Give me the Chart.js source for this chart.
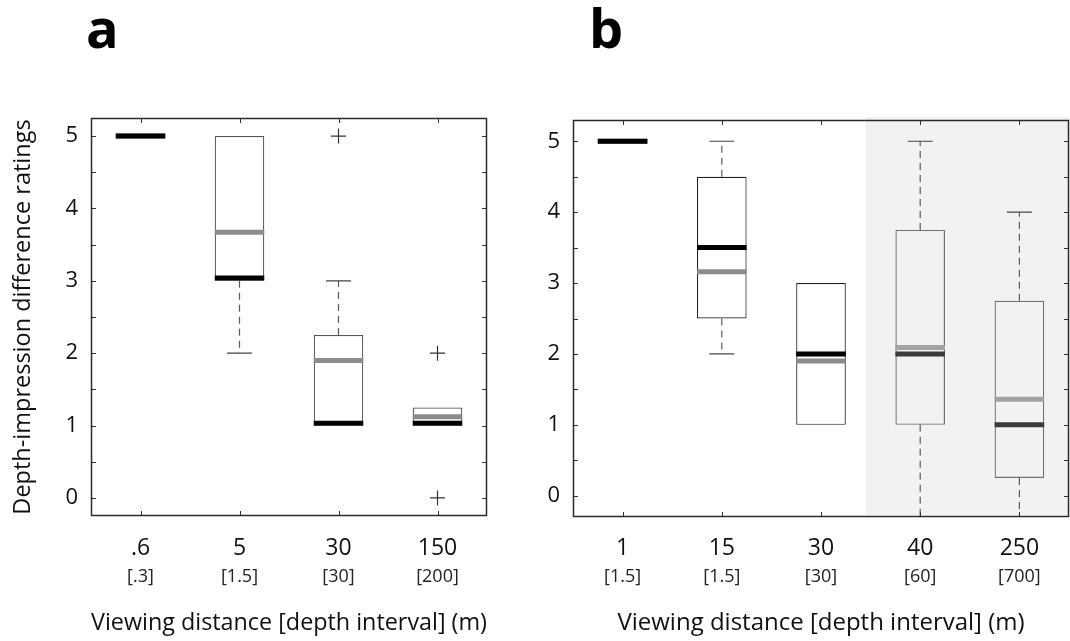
<!DOCTYPE html>
<html>
<head>
<meta charset="utf-8">
<script src="https://cdn.jsdelivr.net/npm/chart.js@4.4.1/dist/chart.umd.min.js"></script>
<style>
  html, body { margin: 0; padding: 0; background: #fff; }
  body { width: 1070px; height: 641px; position: relative; overflow: hidden; font-family: "Open Sans", sans-serif; }
  .panel { position: absolute; top: 0; }
  .letter { position: absolute; top: 0; font-size: 54px; line-height: 54px; font-weight: 700; color: #000; }
</style>
</head>
<body>
<div class="letter" style="left:86px;">a</div>
<div class="letter" style="left:589px;">b</div>
<canvas id="cA" class="panel" style="left:0px;" width="535" height="641"></canvas>
<canvas id="cB" class="panel" style="left:535px;" width="535" height="641"></canvas>
<script>
// ---------- Panel a data ----------
const catsA   = ['.6', '5', '30', '150'];
const depthA  = ['[.3]', '[1.5]', '[30]', '[200]'];
const q1A     = [5, 3, 1, 1];
const q3A     = [5, 5, 2.25, 1.25];
const medA    = [5, 3.04, 1.03, 1.03];
const meanA   = [5, 3.67, 1.9, 1.12];
const loA     = [5, 2, 1, 1];
const hiA     = [5, 5, 3, 1.25];
const outCatA = ['30', '150', '150'];
const outValA = [5, 2, 0];

// ---------- Panel b data ----------
const catsB   = ['1', '15', '30', '40', '250'];
const depthB  = ['[1.5]', '[1.5]', '[30]', '[60]', '[700]'];
const q1B     = [5, 2.5, 1, 1, 0.25];
const q3B     = [5, 4.5, 3, 3.75, 2.75];
const medB    = [5, 3.5, 2, 2, 1];
const meanB   = [5, 3.16, 1.9, 2.09, 1.36];
const loB     = [5, 2, 1, -0.3, -0.3];
const hiB     = [5, 5, 3, 5, 4];
const outCatB = [];
const outValB = [];

// ---------- y ticks ----------
const yTickValues = [0, 0.5, 1, 1.5, 2, 2.5, 3, 3.5, 4, 4.5, 5];
const yTickLabels = ['0', '', '1', '', '2', '', '3', '', '4', '', '5'];

const FONT = '"Open Sans", sans-serif';

const framePlugin = {
  id: 'frameTicks',
  beforeDatasetsDraw(chart, args, opts) {
    if (opts.shadeFrom == null) return;
    const {ctx, chartArea: a, scales: {x}} = chart;
    const x0 = x.getPixelForValue(opts.shadeFrom);
    ctx.save();
    ctx.fillStyle = '#f2f2f2';
    ctx.fillRect(x0, a.top - 3, a.right - x0, a.bottom - a.top + 1);
    ctx.restore();
  },
  afterDatasetsDraw(chart, args, opts) {
    const {ctx, chartArea: a, scales: {x, y}} = chart;
    ctx.save();
    ctx.strokeStyle = '#333';
    ctx.lineWidth = 1;
    ctx.beginPath();
    y.ticks.forEach((t, i) => {
      const py = Math.round(y.getPixelForTick(i)) + 0.5;
      ctx.moveTo(a.left, py); ctx.lineTo(a.left + 5, py);
      ctx.moveTo(a.right - 5, py); ctx.lineTo(a.right, py);
    });
    x.ticks.forEach((t, i) => {
      const px = Math.round(x.getPixelForTick(i)) + 0.5;
      ctx.moveTo(px, a.top); ctx.lineTo(px, a.top + 5);
      ctx.moveTo(px, a.bottom - 5); ctx.lineTo(px, a.bottom);
    });
    ctx.stroke();
    ctx.lineWidth = 1.5;
    ctx.strokeStyle = '#2a2a2a';
    ctx.strokeRect(Math.round(a.left) + 0.5, Math.round(a.top) + 0.5,
                   Math.round(a.width) - 1, Math.round(a.height) - 1);
    ctx.restore();
  }
};

function noPad(s) { s.paddingLeft = 0; s.paddingRight = 0; s.paddingTop = 0; s.paddingBottom = 0; }

function buildChart(canvasId, cfg) {
  const {cats, depth, q1, q3, med, mean, lo, hi, outCat, outVal,
         yMin, yMax, yAxisWidth, padTop, padRight, xH, x2H, xPad, showTitle, shadeFrom} = cfg;
  const shaded = i => shadeFrom != null && i > shadeFrom;
  const whisk = [], caps = [];
  cats.forEach((c, i) => {
    if (hi[i] > q3[i]) { whisk.push({x: c, y: q3[i]}, {x: c, y: hi[i]}, {x: c, y: null}); caps.push({x: c, y: hi[i]}); }
    if (lo[i] < q1[i]) { whisk.push({x: c, y: q1[i]}, {x: c, y: lo[i]}, {x: c, y: null}); caps.push({x: c, y: lo[i]}); }
  });
  const outliers = outCat.map((c, i) => ({x: c, y: outVal[i]}));
  const halfBox = ctx => {
    const s = ctx.chart.scales.x;
    return Math.abs(s.getPixelForValue(1) - s.getPixelForValue(0)) * 0.25;
  };
  return new Chart(document.getElementById(canvasId), {
    type: 'bar',
    data: {
      labels: cats,
      datasets: [
        { type: 'bar', order: 5, data: cats.map((c, i) => [q1[i], q3[i]]),
          backgroundColor: cats.map((c, i) => shaded(i) ? 'rgba(255,255,255,0)' : '#ffffff'),
          borderColor: cats.map((c, i) => shaded(i) ? '#707070' : (showTitle ? '#555555' : '#222222')),
          borderWidth: 1.2, borderSkipped: false, categoryPercentage: 1, barPercentage: 0.5 },
        { type: 'line', order: 4, data: whisk, borderColor: '#5a5a5a', borderWidth: 1.2, borderDash: [7, 5],
          pointRadius: 0, spanGaps: false, fill: false },
        { type: 'line', order: 3, data: caps, showLine: false, pointStyle: 'line', pointRadius: 12.5,
          pointBorderWidth: 1.2, pointBorderColor: '#444', pointBackgroundColor: '#444' },
        { type: 'line', order: 2, showLine: false, data: cats.map((c, i) => ({x: c, y: mean[i]})),
          pointStyle: 'line', pointRadius: halfBox, pointBorderWidth: 5,
          pointBorderColor: cats.map((c, i) => shaded(i) ? '#a3a3a3' : '#8c8c8c') },
        { type: 'line', order: 1, showLine: false, data: cats.map((c, i) => ({x: c, y: med[i]})),
          pointStyle: 'line', pointRadius: halfBox, pointBorderWidth: 5,
          pointBorderColor: cats.map((c, i) => shaded(i) ? '#3a3a3a' : '#000000') },
        { type: 'line', order: 0, showLine: false, data: outliers, pointStyle: 'cross', pointRadius: 7.5,
          pointBorderWidth: 1.2, pointBorderColor: '#333' }
      ]
    },
    options: {
      responsive: false, animation: false, devicePixelRatio: 1,
      layout: {autoPadding: false, padding: {top: padTop, right: padRight, left: 0, bottom: 0}},
      plugins: { legend: {display: false}, tooltip: {enabled: false}, frameTicks: {shadeFrom: shadeFrom} },
      scales: {
        x: { type: 'category', position: 'bottom', offset: true,
          grid: {display: false, drawTicks: false}, border: {display: false},
          ticks: {autoSkip: false, maxRotation: 0, padding: xPad, color: '#111', font: {family: FONT, size: 23}},
          afterFit: s => { s.height = xH; noPad(s); } },
        x2: { type: 'category', position: 'bottom', offset: true, labels: depth,
          grid: {display: false, drawTicks: false}, border: {display: false},
          ticks: {autoSkip: false, maxRotation: 0, padding: 5, color: '#222', font: {family: FONT, size: 18}},
          title: {display: true, text: 'Viewing distance [depth interval] (m)', color: '#111',
                  font: {family: FONT, size: 24}, padding: {top: 0, bottom: 3}},
          afterFit: s => { s.height = x2H; noPad(s); } },
        y: { type: 'linear', min: yMin, max: yMax,
          grid: {display: false, drawTicks: false}, border: {display: false},
          afterBuildTicks: s => { s.ticks = yTickValues.map(v => ({value: v})); },
          ticks: {padding: 13, color: '#111', autoSkip: false, font: {family: FONT, size: 22},
                  callback: (v) => yTickLabels[yTickValues.indexOf(v)] ?? ''},
          title: {display: showTitle, text: 'Depth-impression difference ratings', color: '#111',
                  font: {family: FONT, size: 23.5}, padding: {top: 9, bottom: 0}},
          afterFit: s => { s.width = yAxisWidth; noPad(s); } }
      }
    },
    plugins: [framePlugin]
  });
}

buildChart('cA', {
  cats: catsA, depth: depthA, q1: q1A, q3: q3A, med: medA, mean: meanA, lo: loA, hi: hiA,
  outCat: outCatA, outVal: outValA, yMin: -0.25, yMax: 5.25,
  yAxisWidth: 91, padTop: 118, padRight: 48, xH: 45, x2H: 80, xPad: 19, showTitle: true, shadeFrom: null
});
buildChart('cB', {
  cats: catsB, depth: depthB, q1: q1B, q3: q3B, med: medB, mean: meanB, lo: loB, hi: hiB,
  outCat: outCatB, outVal: outValB, yMin: -0.3, yMax: 5.3,
  yAxisWidth: 38, padTop: 120, padRight: 1, xH: 44, x2H: 80, xPad: 18, showTitle: false, shadeFrom: 2.45
});
</script>
</body>
</html>
